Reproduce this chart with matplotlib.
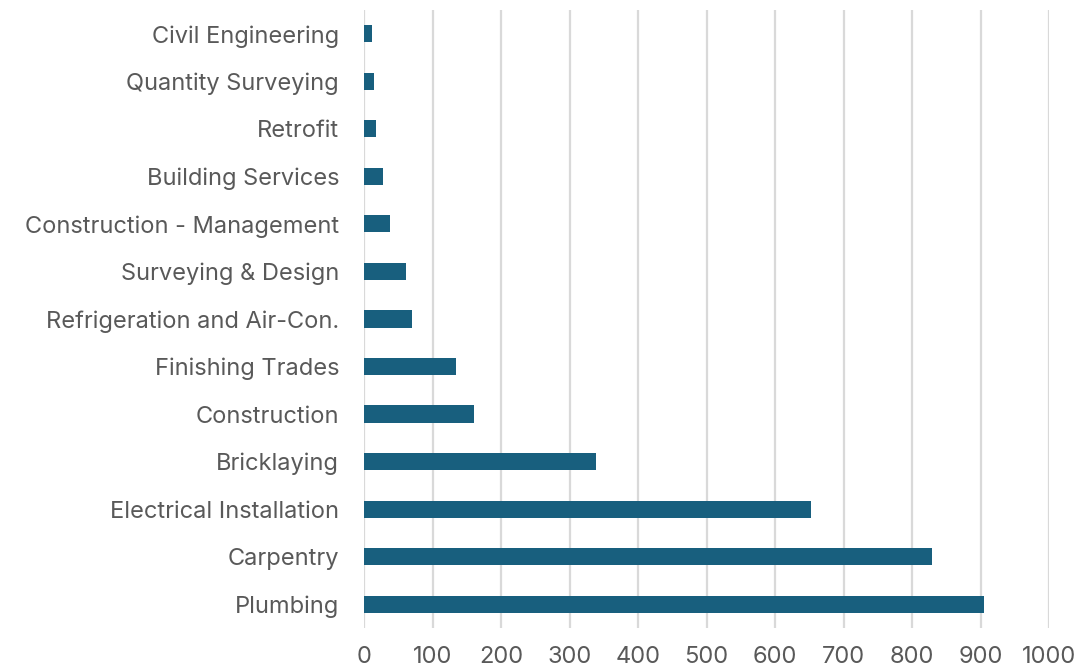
import matplotlib.pyplot as plt

categories = ["Plumbing", "Carpentry", "Electrical Installation", "Bricklaying",
              "Construction", "Finishing Trades", "Refrigeration and Air-Con.",
              "Surveying & Design", "Construction - Management", "Building Services",
              "Retrofit", "Quantity Surveying", "Civil Engineering"]
values = [905, 829, 653, 339, 161, 134, 70, 62, 38, 27, 18, 14, 11]
x_ticks = [0, 100, 200, 300, 400, 500, 600, 700, 800, 900, 1000]

plt.rcParams['font.family'] = ['Inter', 'DejaVu Sans']

fig = plt.figure(figsize=(10.77, 6.68), dpi=100)
ax = fig.add_axes([0.338, 0.06, 0.636, 0.925])

ax.barh(range(len(categories)), values, height=0.36, color="#185F7E",
        zorder=3)

ax.set_xlim(0, 1000)
ax.set_ylim(-0.5, len(categories) - 0.5)
ax.set_xticks(x_ticks)
ax.set_yticks(range(len(categories)))
ax.set_yticklabels(categories)
ax.grid(axis="x", color="#D9D9D9", linewidth=1.6, zorder=0)
ax.set_axisbelow(True)

for s in ax.spines.values():
    s.set_visible(False)
ax.tick_params(axis="both", length=0, labelsize=17, labelcolor="#595959")
ax.tick_params(axis="y", pad=18)
ax.tick_params(axis="x", pad=13)

fig.savefig("out.png", dpi=100)
